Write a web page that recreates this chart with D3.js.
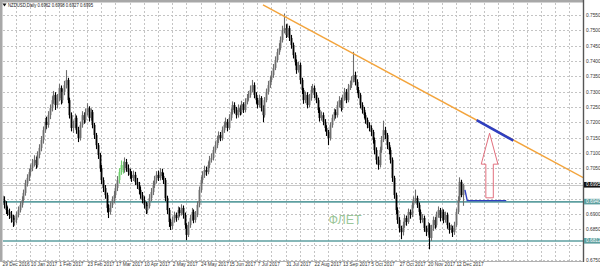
<!DOCTYPE html>
<html><head><meta charset="utf-8">
<script src="https://cdn.jsdelivr.net/npm/d3@7"></script>
<style>
body{margin:0;background:#fff;}
svg{display:block;font-family:"Liberation Sans",Arial,sans-serif;}
</style></head><body>
<svg id="c" width="600" height="271"></svg>
<script>
const chartTitle = "NZDUSD,Daily  0.6962 0.6998 0.6927 0.6995";
const dateLabels = ["29 Dec 2016","10 Jan 2017","1 Feb 2017","23 Feb 2017","17 Mar 2017","10 Apr 2017","2 May 2017","24 May 2017","15 Jun 2017","7 Jul 2017","31 Jul 2017","22 Aug 2017","13 Sep 2017","5 Oct 2017","27 Oct 2017","20 Nov 2017","12 Dec 2017"];
const dateBars = [0,16,32,48,64,80,96,112,128,144,160,176,192,208,224,240,256];
const priceTicks = [0.6750,0.6800,0.6850,0.6900,0.6950,0.7000,0.7050,0.7100,0.7150,0.7200,0.7250,0.7300,0.7350,0.7400,0.7450,0.7500,0.7550];

const open = [.6960,.6946,.6930,.6913,.6907,.6897,.6887,.6874,.6881,.6897,
.6913,.6930,.6946,.6969,.7001,.7018,.7037,.7050,.7067,.7077,
.7060,.7093,.7116,.7142,.7174,.7201,.7191,.7223,.7246,.7272,
.7289,.7256,.7279,.7312,.7272,.7299,.7321,.7338,.7272,.7223,
.7181,.7191,.7214,.7174,.7148,.7191,.7223,.7207,.7233,.7246,
.7214,.7233,.7191,.7158,.7125,.7093,.7050,.7011,.6985,.6962,
.6920,.6907,.6930,.6946,.6962,.6985,.7011,.7037,.7060,.7044,
.7070,.7050,.7037,.7028,.7018,.7028,.7005,.6995,.6979,.6962,
.6946,.6930,.6913,.6926,.6952,.6972,.6995,.7011,.7028,.7018,
.7037,.7024,.7011,.6952,.6913,.6874,.6861,.6881,.6897,.6887,
.6913,.6903,.6920,.6897,.6864,.6832,.6864,.6887,.6907,.6881,
.6897,.6930,.6979,.7011,.7028,.7044,.7037,.7060,.7077,.7083,
.7109,.7125,.7142,.7158,.7148,.7174,.7191,.7201,.7181,.7214,
.7233,.7256,.7240,.7223,.7246,.7233,.7259,.7240,.7266,.7279,
.7289,.7305,.7321,.7289,.7272,.7256,.7279,.7246,.7223,.7272,
.7299,.7321,.7338,.7354,.7377,.7403,.7429,.7442,.7468,.7501,
.7507,.7485,.7507,.7475,.7452,.7419,.7396,.7370,.7387,.7338,
.7305,.7272,.7289,.7256,.7279,.7305,.7312,.7289,.7272,.7240,
.7214,.7223,.7201,.7181,.7168,.7148,.7191,.7214,.7233,.7223,
.7256,.7272,.7246,.7279,.7299,.7272,.7312,.7321,.7338,.7354,
.7331,.7305,.7289,.7256,.7240,.7223,.7207,.7191,.7181,.7168,
.7142,.7109,.7077,.7060,.7109,.7142,.7174,.7158,.7125,.7109,
.7077,.7018,.6962,.6913,.6881,.6854,.6841,.6864,.6887,.6874,
.6907,.6897,.6930,.6946,.6952,.6930,.6907,.6881,.6887,.6854,
.6841,.6864,.6822,.6854,.6881,.6864,.6897,.6913,.6887,.6907,
.6881,.6897,.6864,.6848,.6854,.6841,.6864,.6907,.6946,.7005,
.6962];
const high = [.6975,.6958,.6942,.6925,.6918,.6910,.6898,.6895,.6908,.6925,
.6942,.6958,.6980,.7012,.7030,.7048,.7062,.7080,.7092,.7088,
.7105,.7128,.7155,.7186,.7214,.7218,.7236,.7258,.7285,.7302,
.7298,.7292,.7325,.7320,.7310,.7335,.7370,.7345,.7280,.7232,
.7205,.7228,.7222,.7185,.7202,.7236,.7232,.7245,.7262,.7252,
.7245,.7240,.7198,.7165,.7132,.7100,.7060,.7020,.6995,.6970,
.6932,.6942,.6958,.6975,.6998,.7024,.7050,.7075,.7072,.7085,
.7080,.7062,.7048,.7040,.7042,.7038,.7018,.7005,.6990,.6972,
.6958,.6940,.6938,.6965,.6985,.7008,.7025,.7040,.7042,.7050,
.7048,.7035,.7018,.6960,.6920,.6885,.6892,.6908,.6905,.6925,
.6922,.6932,.6928,.6905,.6870,.6875,.6898,.6920,.6915,.6910,
.6942,.6990,.7022,.7040,.7058,.7055,.7072,.7090,.7098,.7120,
.7138,.7155,.7170,.7168,.7186,.7202,.7215,.7210,.7226,.7245,
.7268,.7265,.7250,.7258,.7255,.7270,.7265,.7278,.7292,.7302,
.7320,.7338,.7330,.7298,.7280,.7290,.7285,.7255,.7282,.7310,
.7335,.7350,.7368,.7390,.7415,.7440,.7458,.7480,.7515,.7555,
.7520,.7522,.7515,.7485,.7460,.7428,.7405,.7398,.7395,.7345,
.7312,.7300,.7298,.7292,.7318,.7325,.7320,.7298,.7280,.7248,
.7235,.7232,.7210,.7190,.7175,.7200,.7225,.7245,.7242,.7268,
.7285,.7280,.7290,.7312,.7308,.7325,.7335,.7350,.7430,.7365,
.7340,.7315,.7295,.7265,.7250,.7232,.7215,.7200,.7190,.7175,
.7150,.7118,.7088,.7120,.7155,.7205,.7185,.7165,.7135,.7118,
.7085,.7025,.6970,.6922,.6890,.6862,.6875,.6898,.6895,.6918,
.6915,.6942,.6958,.6980,.6960,.6938,.6915,.6900,.6895,.6862,
.6875,.6870,.6865,.6892,.6890,.6908,.6925,.6920,.6918,.6915,
.6908,.6905,.6872,.6866,.6862,.6875,.6918,.6958,.7020,.7012,
.6998];
const low = [.6930,.6918,.6900,.6894,.6884,.6872,.6858,.6862,.6870,.6889,
.6905,.6921,.6938,.6960,.6990,.7008,.7025,.7040,.7055,.7048,
.7052,.7082,.7105,.7130,.7165,.7178,.7182,.7210,.7235,.7260,
.7240,.7245,.7268,.7258,.7262,.7288,.7310,.7262,.7212,.7170,
.7165,.7180,.7162,.7135,.7140,.7182,.7195,.7198,.7222,.7202,
.7205,.7180,.7145,.7112,.7080,.7038,.6998,.6972,.6950,.6905,
.6887,.6898,.6920,.6935,.6952,.6975,.7000,.7028,.7032,.7035,
.7038,.7025,.7015,.7005,.7008,.6995,.6982,.6965,.6950,.6935,
.6918,.6900,.6902,.6918,.6942,.6962,.6985,.7000,.7008,.7010,
.7012,.6998,.6942,.6900,.6858,.6848,.6850,.6872,.6875,.6880,
.6892,.6895,.6885,.6852,.6815,.6825,.6855,.6878,.6870,.6872,
.6890,.6922,.6970,.7000,.7018,.7025,.7030,.7050,.7068,.7075,
.7100,.7115,.7132,.7138,.7140,.7165,.7182,.7170,.7175,.7205,
.7225,.7228,.7212,.7215,.7222,.7225,.7230,.7232,.7258,.7270,
.7280,.7298,.7278,.7260,.7245,.7248,.7235,.7200,.7215,.7265,
.7290,.7312,.7330,.7345,.7370,.7395,.7420,.7435,.7460,.7490,
.7475,.7478,.7465,.7440,.7408,.7385,.7358,.7362,.7325,.7292,
.7260,.7262,.7245,.7248,.7270,.7295,.7278,.7262,.7230,.7202,
.7205,.7190,.7170,.7155,.7125,.7140,.7182,.7205,.7212,.7215,
.7248,.7235,.7240,.7270,.7262,.7265,.7305,.7312,.7330,.7320,
.7295,.7278,.7245,.7228,.7212,.7195,.7180,.7170,.7155,.7130,
.7095,.7062,.7045,.7052,.7100,.7135,.7145,.7112,.7095,.7065,
.7005,.6950,.6900,.6868,.6840,.6818,.6830,.6855,.6862,.6868,
.6885,.6890,.6920,.6935,.6920,.6895,.6870,.6872,.6842,.6828,
.6832,.6785,.6812,.6845,.6852,.6856,.6888,.6876,.6878,.6870,
.6872,.6852,.6836,.6838,.6825,.6832,.6858,.6900,.6940,.6955,
.6927];
const close = [.6946,.6930,.6913,.6907,.6897,.6887,.6874,.6881,.6897,.6913,
.6930,.6946,.6969,.7001,.7018,.7037,.7050,.7067,.7077,.7060,
.7093,.7116,.7142,.7174,.7201,.7191,.7223,.7246,.7272,.7289,
.7256,.7279,.7312,.7272,.7299,.7321,.7338,.7272,.7223,.7181,
.7191,.7214,.7174,.7148,.7191,.7223,.7207,.7233,.7246,.7214,
.7233,.7191,.7158,.7125,.7093,.7050,.7011,.6985,.6962,.6920,
.6907,.6930,.6946,.6962,.6985,.7011,.7037,.7060,.7044,.7070,
.7050,.7037,.7028,.7018,.7028,.7005,.6995,.6979,.6962,.6946,
.6930,.6913,.6926,.6952,.6972,.6995,.7011,.7028,.7018,.7037,
.7024,.7011,.6952,.6913,.6874,.6861,.6881,.6897,.6887,.6913,
.6903,.6920,.6897,.6864,.6832,.6864,.6887,.6907,.6881,.6897,
.6930,.6979,.7011,.7028,.7044,.7037,.7060,.7077,.7083,.7109,
.7125,.7142,.7158,.7148,.7174,.7191,.7201,.7181,.7214,.7233,
.7256,.7240,.7223,.7246,.7233,.7259,.7240,.7266,.7279,.7289,
.7305,.7321,.7289,.7272,.7256,.7279,.7246,.7223,.7272,.7299,
.7321,.7338,.7354,.7377,.7403,.7429,.7442,.7468,.7501,.7507,
.7485,.7507,.7475,.7452,.7419,.7396,.7370,.7387,.7338,.7305,
.7272,.7289,.7256,.7279,.7305,.7312,.7289,.7272,.7240,.7214,
.7223,.7201,.7181,.7168,.7148,.7191,.7214,.7233,.7223,.7256,
.7272,.7246,.7279,.7299,.7272,.7312,.7321,.7338,.7354,.7331,
.7305,.7289,.7256,.7240,.7223,.7207,.7191,.7181,.7168,.7142,
.7109,.7077,.7060,.7109,.7142,.7174,.7158,.7125,.7109,.7077,
.7018,.6962,.6913,.6881,.6854,.6841,.6864,.6887,.6874,.6907,
.6897,.6930,.6946,.6952,.6930,.6907,.6881,.6887,.6854,.6841,
.6864,.6822,.6854,.6881,.6864,.6897,.6913,.6887,.6907,.6881,
.6897,.6864,.6848,.6854,.6841,.6864,.6907,.6946,.7005,.6962,
.6995];
const highlightBars = [66,67,68];

// horizontal support levels
const levelPrices = [0.6940, 0.6812];
// orange resistance trendline
const trendBars = [147.2, 330];
const trendPrices = [0.7583, 0.7012];
// blue target segment on trendline
const targetBars = [267.7, 288.4];
const targetPrices = [0.7207, 0.7140];
// blue projected path
const pathBars = [261.1, 262.4, 284.4];
const pathPrices = [0.6979, 0.6944, 0.6944];
// red outline arrow (tip, head base, shaft bottom)
const arrowBar = 275.0;
const arrowPrices = [0.7164, 0.7063, 0.6953];
const arrowHeadHalf = 4.7, arrowShaftHalf = 2.1;
// flat-range label
const flatLabel = "ФЛЕТ", flatBar = 193.5, flatPrice = 0.6868;

const svg = d3.select("#c");
const PL = 3, PR = 583, PT = 3, PB = 261;
const x = d3.scaleLinear().domain([0, 256]).range([2, 2 + 256 * 1.773]);
const y = d3.scaleLinear().domain([0.675, 0.755]).range([260, 15]);

svg.append("rect").attr("width", 600).attr("height", 271).attr("fill", "#fff");
svg.append("defs").append("clipPath").attr("id", "clip")
  .append("rect").attr("x", PL).attr("y", PT).attr("width", PR - PL).attr("height", PB - PT);

const plot = svg.append("g").attr("clip-path", "url(#clip)");

// grid
plot.append("g").selectAll("line").data(d3.range(0, 336, 8)).join("line")
  .attr("x1", d => Math.round(x(d)) + 0.5).attr("x2", d => Math.round(x(d)) + 0.5)
  .attr("y1", PT).attr("y2", PB)
  .attr("stroke", "#c4c4c4").attr("stroke-width", 1).attr("stroke-dasharray", "2,2");
plot.append("g").selectAll("line").data(priceTicks).join("line")
  .attr("x1", PL).attr("x2", PR)
  .attr("y1", d => Math.round(y(d)) + 0.5).attr("y2", d => Math.round(y(d)) + 0.5)
  .attr("stroke", "#c4c4c4").attr("stroke-width", 1).attr("stroke-dasharray", "2,2");

// bid line
plot.append("line").attr("x1", PL).attr("x2", PR)
  .attr("y1", y(close[close.length - 1]) + 0.5).attr("y2", y(close[close.length - 1]) + 0.5)
  .attr("stroke", "#c8c8c8").attr("stroke-width", 1);

// support levels
plot.append("g").selectAll("line").data(levelPrices).join("line")
  .attr("x1", PL).attr("x2", PR)
  .attr("y1", d => y(d)).attr("y2", d => y(d))
  .attr("stroke", "#5e9fa0").attr("stroke-width", 1.7);

// candles
const idx = d3.range(close.length);
const col = i => highlightBars.includes(i) ? "#6fcf6f" : (close[i] >= open[i] ? "#6e6e6e" : "#000");
const cg = plot.append("g");
cg.selectAll("line").data(idx).join("line")
  .attr("x1", i => Math.round(x(i)) + 0.5).attr("x2", i => Math.round(x(i)) + 0.5)
  .attr("y1", i => y(high[i])).attr("y2", i => y(low[i]))
  .attr("stroke", col).attr("stroke-width", 1.1);
cg.selectAll("rect").data(idx).join("rect")
  .attr("x", i => Math.round(x(i)) - 0.4)
  .attr("width", 1.8)
  .attr("y", i => y(Math.max(open[i], close[i])))
  .attr("height", i => Math.max(0.8, Math.abs(y(open[i]) - y(close[i]))))
  .attr("fill", col);

// trendline
const line = d3.line().x(d => x(d[0])).y(d => y(d[1]));
plot.append("path").attr("d", line(d3.zip(trendBars, trendPrices)))
  .attr("stroke", "#f3a43c").attr("stroke-width", 1.4).attr("fill", "none");
plot.append("path").attr("d", line(d3.zip(targetBars, targetPrices)))
  .attr("stroke", "#2f3fc0").attr("stroke-width", 2.6).attr("fill", "none");
plot.append("path").attr("d", line(d3.zip(pathBars, pathPrices)))
  .attr("stroke", "#2f3fc0").attr("stroke-width", 1.4).attr("fill", "none");

// arrow
const ap = [
  [arrowBar, arrowPrices[0]],
  [arrowBar + arrowHeadHalf, arrowPrices[1]],
  [arrowBar + arrowShaftHalf, arrowPrices[1]],
  [arrowBar + arrowShaftHalf, arrowPrices[2]],
  [arrowBar - arrowShaftHalf, arrowPrices[2]],
  [arrowBar - arrowShaftHalf, arrowPrices[1]],
  [arrowBar - arrowHeadHalf, arrowPrices[1]]
];
plot.append("path").attr("d", line(ap) + "Z")
  .attr("stroke", "#e2707e").attr("stroke-width", 1).attr("fill", "none");

// flat label
plot.append("text").attr("x", x(flatBar)).attr("y", y(flatPrice))
  .attr("text-anchor", "middle").attr("font-size", 12.5).attr("fill", "#9cc79a")
  .text(flatLabel);

// frame strips
svg.append("rect").attr("x", 0).attr("y", 0).attr("width", 2.5).attr("height", PB).attr("fill", "#a8a8a8");
svg.append("rect").attr("x", 0).attr("y", 0).attr("width", PR).attr("height", 2.5).attr("fill", "#a8a8a8");

// price boxes (current price and support levels)
const boxes = [
  {p: close[close.length - 1], fill: "#111"},
  {p: levelPrices[0], fill: "#5e9fa0"},
  {p: levelPrices[1], fill: "#5e9fa0"}
];

// axes: hide price-scale labels covered by a price box
const visibleTicks = priceTicks.filter(t => boxes.every(b => Math.abs(y(t) - y(b.p)) > 4));
const yAxis = d3.axisRight(y).tickValues(visibleTicks).tickFormat(d3.format(".4f")).tickSize(0).tickPadding(3);
const ya = svg.append("g").attr("transform", `translate(${PR},0)`).call(yAxis);
ya.select(".domain").remove();
ya.selectAll("text").attr("font-size", 4.8).attr("fill", "#333").attr("font-family", "Liberation Sans, Arial, sans-serif");

const xAxis = d3.axisBottom(x).tickValues(dateBars).tickFormat((d, i) => dateLabels[i]).tickSize(0).tickPadding(2);
const xa = svg.append("g").attr("transform", `translate(0,${PB})`).call(xAxis);
xa.select(".domain").remove();
xa.selectAll("text").attr("font-size", 4.8).attr("fill", "#333").attr("text-anchor", "start")
  .attr("font-family", "Liberation Sans, Arial, sans-serif");

svg.append("line").attr("x1", PR + 0.5).attr("x2", PR + 0.5).attr("y1", 0).attr("y2", PB + 1)
  .attr("stroke", "#555").attr("stroke-width", 1.4);
svg.append("line").attr("x1", 0).attr("x2", PR).attr("y1", PB + 0.5).attr("y2", PB + 0.5)
  .attr("stroke", "#b0b0b0").attr("stroke-width", 1);

const bg = svg.append("g");
boxes.forEach(b => {
  bg.append("rect").attr("x", PR + 1).attr("y", y(b.p) - 3).attr("width", 16).attr("height", 5.6).attr("fill", b.fill);
  bg.append("text").attr("x", PR + 3).attr("y", y(b.p) - 0.2).attr("dy", "0.34em")
    .attr("font-size", 4.8).attr("fill", "#fff").text(d3.format(".4f")(b.p));
});

// title
svg.append("path").attr("d", "M2.5,3.5 L6.5,3.5 L4.5,6.5 Z").attr("fill", "#111");
svg.append("text").attr("x", 8).attr("y", 7).attr("font-size", 5).attr("fill", "#111")
  .attr("textLength", 85).attr("lengthAdjust", "spacingAndGlyphs").text(chartTitle);
</script>
</body></html>
